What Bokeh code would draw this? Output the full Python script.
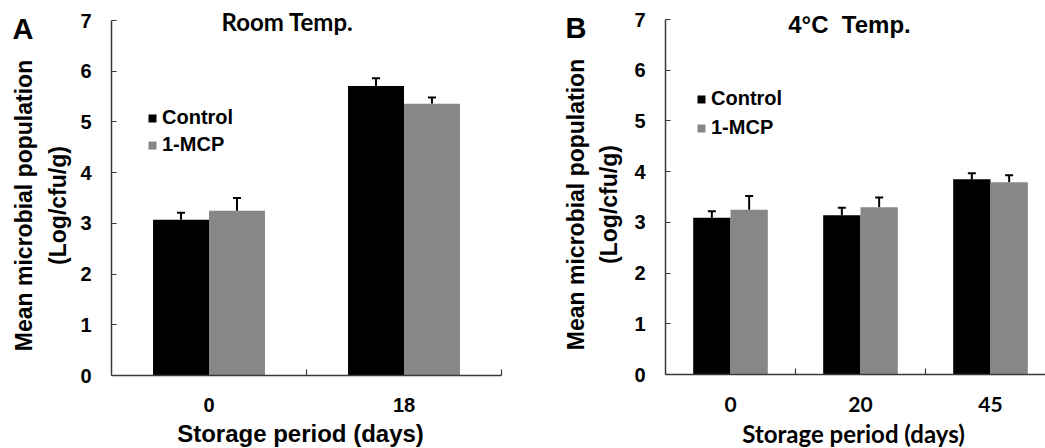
import math
from bokeh.plotting import figure
from bokeh.layouts import row
from bokeh.models import (Range1d, FixedTicker, Label, Legend, LegendItem, Whisker,
                          TeeHead, ColumnDataSource)
from bokeh.transform import dodge
from bokeh.embed import file_html
from bokeh.resources import INLINE

# ---------------- data ----------------
days_a = ["0", "18"]
control_a = [3.07, 5.71]
control_err_a = [0.14, 0.15]
mcp_a = [3.25, 5.36]
mcp_err_a = [0.25, 0.12]

days_b = ["0", "20", "45"]
control_b = [3.09, 3.14, 3.85]
control_err_b = [0.13, 0.15, 0.12]
mcp_b = [3.25, 3.30, 3.79]
mcp_err_b = [0.27, 0.19, 0.14]

series_names = ["Control", "1-MCP"]
y_ticks = [0, 1, 2, 3, 4, 5, 6, 7]
y_label_lines = ["Mean microbial population", "(Log/cfu/g)"]
x_label = "Storage period (days)"

# ---------------- style ----------------
BLACK = "#000000"
GRAY = "#878787"
AXIS = "#3a3a3a"
ARIAL = "Liberation Sans"
CALIBRI = "Lato"
BAR_W = 0.287
OFF = BAR_W / 2
H = 448


def panel(letter, letter_cy, title, title_font, title_size, title_cx, title_cy,
          days, ctrl, ctrl_err, mcp, mcp_err,
          width, page_left, axis_x, axis_y, px_per_cat, n_axis_cats,
          tick_font, tick_size, xlab_font, xlab_size, xlab_cx,
          legend_xy, legend_spacing, letter_left, ylab1, ylab2, ylab_cy):
    ypp = 355 / 7.0
    ox = axis_x - page_left
    oy = axis_y

    def dx(page_x):
        return (page_x - page_left - ox) / px_per_cat

    def dy(page_y):
        return (oy - page_y) / ypp

    p = figure(width=width, height=H,
               x_range=Range1d(dx(page_left), dx(page_left + width)),
               y_range=Range1d(dy(H), dy(0)),
               output_backend="svg", toolbar_location=None,
               min_border=0, min_border_left=0, min_border_right=0,
               min_border_top=0, min_border_bottom=0)
    p.outline_line_color = None
    p.xgrid.visible = False
    p.ygrid.visible = False
    p.background_fill_color = "white"
    p.border_fill_color = "white"

    pos = [i + 0.5 for i in range(len(days))]
    src = ColumnDataSource(dict(
        pos=pos, ctrl=ctrl, mcp=mcp,
        ctrl_up=[v + e for v, e in zip(ctrl, ctrl_err)],
        mcp_up=[v + e for v, e in zip(mcp, mcp_err)],
    ))
    r1 = p.vbar(x=dodge("pos", -OFF), top="ctrl", width=BAR_W, source=src,
                fill_color=BLACK, line_color=None)
    r2 = p.vbar(x=dodge("pos", OFF), top="mcp", width=BAR_W, source=src,
                fill_color=GRAY, line_color=None)
    for up, base, sign in (("ctrl_up", "ctrl", -OFF), ("mcp_up", "mcp", OFF)):
        w = Whisker(source=src, base=dodge("pos", sign), upper=up, lower=base,
                    line_color=BLACK, line_width=2,
                    upper_head=TeeHead(size=8, line_width=2, line_color=BLACK),
                    lower_head=None)
        p.add_layout(w)

    for ax in (p.xaxis[0], p.yaxis[0]):
        ax.axis_line_color = AXIS
        ax.axis_line_width = 1.5
        ax.major_tick_line_color = AXIS
        ax.minor_tick_line_color = AXIS
        ax.major_tick_line_width = 1.2
        ax.minor_tick_line_width = 1.2
        ax.major_label_text_color = "black"
        ax.major_label_text_font_style = "bold"

    xa = p.xaxis[0]
    xa.fixed_location = 0
    xa.bounds = (0, n_axis_cats)
    xa.ticker = FixedTicker(ticks=pos, minor_ticks=[i + 1 for i in range(n_axis_cats)])
    xa.major_label_overrides = {pp: d for pp, d in zip(pos, days)}
    xa.major_tick_in = 0
    xa.major_tick_out = 0
    xa.minor_tick_in = 6
    xa.minor_tick_out = 0
    xa.major_label_text_font = tick_font
    xa.major_label_text_font_size = f"{tick_size}px"
    xa.major_label_standoff = 22

    ya = p.yaxis[0]
    ya.fixed_location = 0
    ya.bounds = (0, 7)
    ya.ticker = FixedTicker(ticks=y_ticks, minor_ticks=[])
    ya.major_tick_in = 5
    ya.major_tick_out = 0
    ya.major_label_text_font = ARIAL
    ya.major_label_text_font_size = "20px"
    ya.major_label_standoff = 20

    legend = Legend(items=[LegendItem(label=series_names[0], renderers=[r1]),
                           LegendItem(label=series_names[1], renderers=[r2])],
                    location=legend_xy, orientation="vertical",
                    glyph_width=10, glyph_height=10, label_height=20,
                    label_standoff=5, spacing=legend_spacing, padding=0, margin=0,
                    border_line_color=None, background_fill_alpha=0,
                    label_text_font=ARIAL, label_text_font_style="bold",
                    label_text_font_size="20px", label_text_color="black")
    p.add_layout(legend)

    def lab(px, py, text, font, size, align="center", angle=0.0):
        p.add_layout(Label(x=dx(px), y=dy(py), text=text, text_font=font,
                           text_font_style="bold", text_font_size=f"{size}px",
                           text_color="black", text_align=align,
                           text_baseline="middle", angle=angle))

    lab(letter_left, letter_cy, letter, ARIAL, 29, align="left")
    lab(title_cx, title_cy, title, title_font, title_size)
    lab(ylab1, ylab_cy, y_label_lines[0], ARIAL, 23, angle=math.pi / 2)
    lab(ylab2, ylab_cy, y_label_lines[1], ARIAL, 23, angle=math.pi / 2)
    lab(xlab_cx, 433, x_label, xlab_font, xlab_size)
    return p


pA = panel("A", 28, "Room Temp.", CALIBRI, 24, 287, 21,
           days_a, control_a, control_err_a, mcp_a, mcp_err_a,
           width=520, page_left=0, axis_x=111, axis_y=375, px_per_cat=195.0,
           n_axis_cats=2, tick_font=ARIAL, tick_size=20,
           xlab_font=ARIAL, xlab_size=24, xlab_cx=300,
           legend_xy=(147, 292), legend_spacing=4,
           letter_left=12, ylab1=23, ylab2=57.5, ylab_cy=205)

pB = panel("B", 27.5, "4°C\u00a0\u00a0Temp.", ARIAL, 24, 849, 24,
           days_b, control_b, control_err_b, mcp_b, mcp_err_b,
           width=525, page_left=520, axis_x=665, axis_y=374, px_per_cat=130.0,
           n_axis_cats=3, tick_font=CALIBRI, tick_size=21,
           xlab_font=CALIBRI, xlab_size=24, xlab_cx=853,
           legend_xy=(176, 309), legend_spacing=6,
           letter_left=565, ylab1=575, ylab2=608, ylab_cy=204)

layout = row(pA, pB, spacing=0)
open("out.html", "w").write(file_html(layout, INLINE))
